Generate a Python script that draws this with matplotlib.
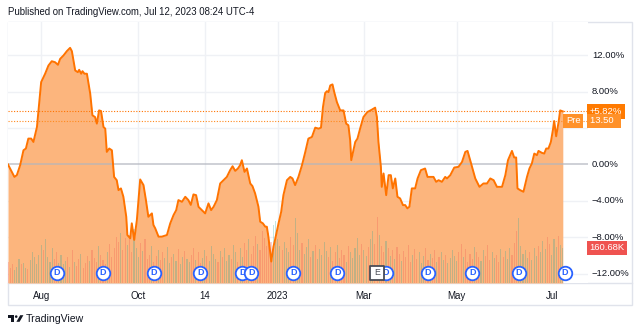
import numpy as np
import matplotlib
matplotlib.use("Agg")
import matplotlib.pyplot as plt
from matplotlib.patches import Rectangle, Polygon, Circle
from matplotlib.transforms import blended_transform_factory

plt.rcParams['font.family'] = ['Liberation Sans', 'DejaVu Sans']

# ---------------- data ----------------
session = [-1.0, 1.9, 3.0, 4.5, 6.0, 7.1, 8.2, 9.5, 10.5, 12.1, 12.8, 14.0, 15.8, 17.3, 18.8,
           20.3, 21.6, 22.6, 24.1, 25.6, 27.1, 27.9, 29.4, 30.6, 31.2, 32.1, 32.7, 33.6, 34.7,
           36.2, 37.2, 38.4, 39.2, 40.2, 41.1, 42.2, 43.0, 43.7, 44.8, 46.0, 47.0, 48.2, 49.0,
           50.1, 51.2, 52.5, 53.0, 54.3, 55.0, 56.1, 57.3, 58.8, 60.3, 61.4, 62.5, 63.3, 64.1,
           64.8, 65.6, 67.1, 68.6, 70.9, 72.4, 73.9, 75.1, 76.1, 77.7, 79.2, 80.6, 81.7, 82.9,
           84.1, 85.2, 86.7, 88.2, 89.7, 90.9, 92.0, 93.5, 95.0, 96.5, 98.0, 99.5, 100.6, 101.8,
           103.0, 104.0, 104.8, 106.0, 107.1, 108.6, 109.6, 110.8, 112.3, 113.1, 114.3, 115.4,
           116.1, 116.8, 118.1, 119.1, 119.8, 121.4, 122.6, 123.6, 125.2, 126.7, 127.7, 128.9,
           130.4, 132.0, 133.5, 134.9, 136.5, 138.0, 139.5, 140.6, 141.5, 142.5, 143.3, 144.0,
           144.8, 145.8, 146.6, 147.8, 149.3, 150.8, 152.0, 153.0, 153.8, 154.3, 155.3, 156.1,
           157.1, 158.3, 159.8, 161.6, 163.6, 165.1, 165.9, 166.6, 167.7, 168.1, 168.9, 170.1,
           171.2, 172.2, 173.1, 174.2, 175.2, 176.4, 177.7, 178.7, 179.7, 180.6, 181.7, 183.2,
           184.3, 185.8, 187.7, 188.8, 191.5, 192.7, 193.8, 195.3, 196.8, 197.6, 199.1, 200.9,
           202.8, 204.4, 205.9, 206.9, 208.1, 210.4, 212.3, 214.1, 215.7, 217.2, 218.7, 220.2,
           222.5, 224.0, 225.2, 227.0, 228.0, 228.9, 229.5, 230.7, 232.2, 233.8, 234.9, 236.0,
           237.1, 238.3, 239.0, 240.6, 241.6, 242.5, 243.5, 244.6, 245.5, 246.1, 247.0, 248.1,
           248.8, 250.0]
pct_change = [0.00, -1.36, -1.17, -0.08, 1.56, 1.75, 2.84, 2.84, 2.47, 4.11, 5.93, 9.03, 9.95,
              10.85, 11.32, 11.21, 10.93, 11.58, 11.95, 12.42, 12.79, 12.42, 10.31, 10.12, 10.38,
              9.95, 10.23, 9.95, 9.95, 7.76, 5.39, 5.20, 4.48, 5.93, 5.86, 4.11, 3.93, 1.38, 1.75,
              1.56, -1.36, -1.72, -2.81, -2.62, -3.54, -5.73, -7.73, -8.09, -6.45, -8.27, -6.09,
              -1.64, -2.26, -3.90, -5.73, -5.54, -5.36, -6.63, -6.99, -7.91, -7.91, -7.73, -6.45,
              -5.54, -5.00, -3.90, -4.09, -3.54, -3.90, -4.43, -3.28, -3.36, -4.64, -5.00, -5.36,
              -4.26, -5.00, -4.64, -3.90, -2.08, -1.72, -1.36, -0.62, -0.19, -0.70, -0.44, -0.08,
              0.47, -0.81, -0.44, -2.08, -2.37, -3.17, -4.63, -6.27, -6.45, -6.82, -6.82, -7.91,
              -10.64, -9.01, -8.27, -6.45, -5.18, -3.36, -1.72, -1.36, -1.53, -2.26, -1.36, -0.08,
              1.38, 2.84, 3.02, 4.04, 3.93, 4.04, 6.30, 7.83, 8.04, 7.93, 8.67, 8.78, 7.93, 6.84,
              5.93, 5.93, 4.48, 4.30, 2.66, 0.47, 1.56, 2.47, 2.84, 3.93, 5.20, 5.75, 6.01, 6.23,
              5.20, 2.47, -0.26, -2.45, -0.98, -3.36, -1.17, -1.17, -2.62, -1.53, -3.54, -3.72,
              -4.45, -4.45, -4.81, -4.63, -2.62, -2.62, -1.53, -0.62, -0.44, -1.36, -1.36, -1.90,
              -1.72, -1.90, -1.36, -1.53, -1.17, -0.33, -0.26, 0.28, 1.38, 1.49, 0.47, -1.53,
              -2.45, -2.08, -2.08, -1.53, -1.72, -2.45, -2.45, -1.17, 0.47, 1.49, 0.77, 0.77,
              -2.62, -2.81, -2.99, -1.36, -0.44, 0.11, 1.20, 1.02, 1.49, 1.27, 1.20, 1.75, 1.75,
              2.47, 3.75, 4.77, 3.09, 4.66, 5.93, 5.82]

# daily volume in thousands (sessions -1 .. 250)
vol_k = [95, 70, 88, 60, 75, 110, 85, 92, 70, 65, 105, 140, 120, 88, 130, 175, 150, 200, 120, 95, 160, 110, 140, 90, 130,
         85, 100, 120, 75, 150, 95, 80, 110, 135, 70, 90, 125, 100, 150, 115, 95, 170, 130, 105, 85, 140, 180, 120, 160, 210,
         190, 230, 150, 205, 175, 220, 140, 250, 160, 120, 185, 145, 200, 110, 130, 170, 95, 125, 150, 105, 140, 115, 165, 90, 120,
         135, 100, 155, 85, 120, 145, 110, 95, 130, 160, 105, 140, 90, 115, 150, 125, 100, 170, 135, 110, 95, 145, 120, 160, 100,
         130, 110, 175, 140, 95, 160, 120, 185, 150, 200, 135, 170, 215, 180, 150, 240, 205, 170, 230, 190, 265, 285, 200, 170, 150,
         190, 160, 140, 210, 175, 300, 230, 150, 185, 135, 165, 200, 120, 145, 175, 110, 155, 130, 190, 145, 120, 165, 100, 140, 175,
         115, 150, 130, 95, 170, 140, 115, 160, 205, 130, 180, 150, 125, 165, 200, 240, 180, 305, 220, 170, 140, 195, 160, 125, 150,
         110, 165, 135, 100, 145, 120, 175, 95, 130, 155, 110, 140, 90, 125, 160, 105, 135, 115, 150, 95, 120, 140, 105, 130, 90,
         115, 150, 125, 100, 140, 180, 120, 155, 95, 135, 110, 165, 140, 120, 100, 150, 125, 175, 105, 140, 115, 130, 95, 155, 120,
         145, 110, 160, 130, 185, 240, 300, 170, 135, 150, 115, 140, 105, 160, 125, 170, 140, 195, 155, 210, 180, 130, 200, 165, 215,
         175, 160.68]
vol_dir = ("ddduuuduuduuuuuuduuuudduu" "uudududdudddudddudddudddd" "duddudduuududdduddudduuud"
           "uuduuduuddudduuduuuududuu" "uduuduuddudddudddddduuuud" "uuudduuuduuududuuuuududdu"
           "ddduduuuuuduuduudduddudud" "udduddddudduuuddudduduudu" "uuuudduddddudduuddduuddud"
           "uuuddduuuuuduuuduuudduuud" "uu")

tick_sessions = [14, 58, 88, 121, 160, 202, 245]
tick_labels = ["Aug", "Oct", "14", "2023", "Mar", "May", "Jul"]
price_ticks = [12, 8, 0, -4, -8, -12]
grid_levels = [12, 8, 4, -4, -8, -12]
dividend_sessions = [21, 42, 65, 86, 105, 109, 128, 148, 170, 189, 209, 230, 251]
earnings_sessions = [166]
last_pct = 5.82
pre_pct = 4.77
pre_price = "13.50"
last_vol_k = 160.68

LINE = '#ff7300'
FILL = '#fcb57d'
TXT = '#131722'
GRID = '#eff1f5'
BLUE = '#2962ff'
VOL_MAX = 1198.0

W, H = 640, 333
fig = plt.figure(figsize=(6.4, 3.33), dpi=100)
fig.patch.set_facecolor('white')


def fr(x0, y0, x1, y1):
    return [x0 / W, 1 - y1 / H, (x1 - x0) / W, (y1 - y0) / H]


bg = fig.add_axes([0, 0, 1, 1], zorder=0)
bg.set_xlim(0, W)
bg.set_ylim(H, 0)
bg.axis('off')

ax = fig.add_axes(fr(8, 22, 588, 283), zorder=1)
ax.set_xlim(-1.0, 261.4)
ax.set_ylim(-12.99, 15.62)
for sp in ax.spines.values():
    sp.set_visible(False)
ax.set_yticks([])
ax.set_xticks(tick_sessions, tick_labels)
ax.tick_params(axis='x', length=0, pad=6, labelsize=7, colors=TXT)

# grid
for g in grid_levels:
    ax.axhline(g, color=GRID, lw=1, zorder=0)
for t in tick_sessions:
    ax.axvline(t, color=GRID, lw=1, zorder=0)

# area
ax.fill_between(session, pct_change, -12.99, color=FILL, lw=0, zorder=1)
ax.axhline(0, color='#b2b5be', lw=1.1, alpha=0.8, zorder=3)

# volume bars
vtrans = blended_transform_factory(ax.transData, ax.transAxes)
vx = np.arange(-1, -1 + len(vol_k))
vcol = [('#26a69a' if d == 'u' else '#ef5350') for d in vol_dir]
ax.bar(vx, np.array(vol_k) / VOL_MAX, width=0.5, bottom=0, color=vcol, alpha=0.27,
       transform=vtrans, zorder=2, lw=0)

# price line
ax.plot(session, pct_change, color=LINE, lw=1.4, zorder=4, solid_joinstyle='round')

# dotted last / pre lines
ax.axhline(last_pct, color=LINE, lw=0.8, ls=(0, (1, 1.5)), zorder=3)
ax.axhline(pre_pct, color='#ff8a1f', lw=0.8, ls=(0, (1, 1.5)), zorder=3)

# price axis labels
ytr = ax.get_yaxis_transform()
xlab = (592 - 8) / 580
for p in price_ticks:
    ax.text(xlab, p, f"{p:.2f}%".replace('-', '\u2212'), transform=ytr, ha='left', va='center',
            fontsize=6.8, color=TXT, clip_on=False)

ax.text(xlab - 0.004, last_pct, f"+{last_pct:.2f}%", transform=ytr, ha='left', va='center',
        fontsize=6.8, color='white', clip_on=False,
        bbox=dict(boxstyle='square,pad=0.28', fc='#ff7a00', ec='none'))
ax.text(xlab - 0.004, pre_pct, pre_price + "  ", transform=ytr, ha='left', va='center',
        fontsize=6.8, color='white', clip_on=False,
        bbox=dict(boxstyle='square,pad=0.28', fc='#ff9129', ec='none'))
ax.text((566 - 8) / 580, pre_pct, "Pre", transform=ytr, ha='left', va='center',
        fontsize=6.8, color='white', clip_on=False,
        bbox=dict(boxstyle='square,pad=0.28', fc='#ff9129', ec='none'))
ax.text(xlab - 0.004, last_vol_k / VOL_MAX, f"{last_vol_k:.2f}K", transform=ax.transAxes,
        ha='left', va='center', fontsize=6.8, color='white', clip_on=False,
        bbox=dict(boxstyle='square,pad=0.28', fc='#ef5350', ec='none'))

# dividend / earnings markers
xtr = ax.get_xaxis_transform()
ym = 0.039
events = [(s, 'D') for s in dividend_sessions] + [(s, 'E') for s in earnings_sessions]
events.sort(key=lambda e: (e[0], e[1]))
events = [e for e in events if e[1] == 'D'] + [e for e in events if e[1] == 'E']
for k, (s, kind) in enumerate(events):
    z = 10 + 2 * k
    if kind == 'D':
        ax.scatter([s], [ym], s=95, marker='o', facecolor='white', edgecolor=BLUE, lw=1.3,
                   transform=xtr, zorder=z, clip_on=False)
        ax.text(s, ym, 'D', transform=xtr, ha='center', va='center', fontsize=6.5,
                color=BLUE, fontweight='bold', zorder=z + 1, clip_on=False)
    else:
        ax.scatter([s], [ym], s=95, marker='s', facecolor='white', edgecolor='#4a4d57', lw=1.3,
                   transform=xtr, zorder=z, clip_on=False)
        ax.text(s, ym, 'E', transform=xtr, ha='center', va='center', fontsize=6.3,
                color='#4a4d57', zorder=z + 1, clip_on=False)

# frame & separators
bg.add_patch(Rectangle((8, 22), 624, 283, fill=False, ec='#e0e3eb', lw=1))
bg.plot([8, 632], [283, 283], color='#e0e3eb', lw=1)

# header & legend
bg.text(8, 12, "Published on TradingView.com, Jul 12, 2023 08:24 UTC-4", fontsize=6.9,
        color=TXT, va='center', ha='left')
bg.text(14, 33, "PCN", fontsize=6.6, color=TXT, va='center', ha='left')
bg.text(38, 33, "5.82%", fontsize=6.6, color='#ff7a00', va='center', ha='left')
bg.text(14, 46, "Vol", fontsize=6.6, color=TXT, va='center', ha='left')
bg.text(33, 46, "160.68K", fontsize=6.6, color='#f0525a', va='center', ha='left')

# logo
bg.add_patch(Polygon([(8.3, 315.2), (14.2, 315.2), (14.2, 321.8), (11.4, 321.8), (11.4, 317.6),
                      (8.3, 317.6)], closed=True, fc=TXT, ec='none'))
bg.add_patch(Circle((16.2, 316.6), 1.3, fc=TXT, ec='none'))
bg.add_patch(Polygon([(20.2, 315.2), (23.4, 315.2), (19.6, 321.8), (16.4, 321.8)],
                     closed=True, fc=TXT, ec='none'))
bg.text(26, 319, "TradingView", fontsize=7.6, color=TXT, va='center', ha='left')

fig.savefig("out.png", dpi=100)
